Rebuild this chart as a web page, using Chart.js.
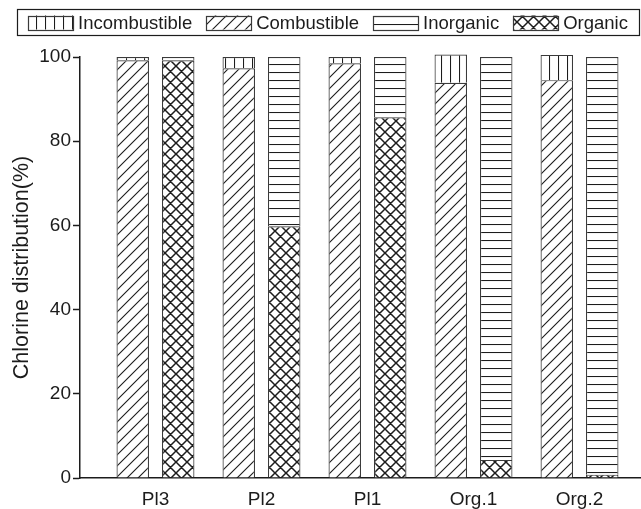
<!DOCTYPE html>
<html>
<head>
<meta charset="utf-8">
<script src="https://cdn.jsdelivr.net/npm/chart.js@4.4.1/dist/chart.umd.min.js"></script>
<style>
  html, body { margin: 0; padding: 0; background: #fff; }
  #wrap { width: 641px; height: 509px; }
</style>
</head>
<body>
<div id="wrap"><canvas id="chart"></canvas></div>
<script>
// data (percent of total chlorine)
const categories = ['Pl3', 'Pl2', 'Pl1', 'Org.1', 'Org.2'];
const combustible = [99.2, 97.3, 98.5, 93.9, 94.5];
const incombustible = [0.8, 2.7, 1.5, 6.7, 6.0];
const organic = [99.2, 59.8, 85.7, 4.3, 0.8];
const inorganic = [0.8, 40.2, 14.3, 95.7, 99.2];
const yTicks = [0, 20, 40, 60, 80, 100];

const INK = '#1c1c1c';
const FONT = "Arial, 'Liberation Sans', sans-serif";

Chart.defaults.font.family = FONT;
Chart.defaults.color = INK;

// hatch fills, drawn once into small tiles
function makePattern(kind) {
    const s = { vertical: 9, horizontal: 8, diagonal: 11, cross: 11 }[kind];
    const c = document.createElement('canvas');
    c.width = s; c.height = s;
    const g = c.getContext('2d');
    g.fillStyle = '#fff';
    g.fillRect(0, 0, s, s);
    g.strokeStyle = INK;
    g.lineWidth = kind === 'cross' ? 1.5 : 1.1;
    g.beginPath();
    if (kind === 'vertical') { g.moveTo(0.5, 0); g.lineTo(0.5, s); }
    if (kind === 'horizontal') { g.moveTo(0, 0.5); g.lineTo(s, 0.5); }
    if (kind === 'diagonal' || kind === 'cross') {
        g.moveTo(-1, s + 1); g.lineTo(s + 1, -1);
        g.moveTo(-1, 1); g.lineTo(1, -1);
        g.moveTo(s - 1, s + 1); g.lineTo(s + 1, s - 1);
    }
    if (kind === 'cross') {
        g.moveTo(-1, -1); g.lineTo(s + 1, s + 1);
        g.moveTo(s - 1, -1); g.lineTo(s + 1, 1);
        g.moveTo(-1, s - 1); g.lineTo(1, s + 1);
    }
    g.stroke();
    return g.createPattern(c, 'repeat');
}

const toPoints = (arr) => arr.map((v, i) => ({ x: i, y: v }));

function barSet(label, data, stack, kind) {
    return {
        label,
        data: toPoints(data),
        stack,
        clip: false,
        backgroundColor: makePattern(kind),
        borderColor: '#3a3a3a',
        borderWidth: 1.2,
        categoryPercentage: 0.858,
        barPercentage: 0.714,
    };
}

// legend drawn by hand: one boxed row, swatches use the dataset fills
const legendOrder = [1, 0, 3, 2];
const boxedLegend = {
    id: 'boxedLegend',
    afterDraw(chart) {
        const ctx = chart.ctx;
        const sw = 45, sh = 14, gap = 5, itemGap = 14, cy = 22.5;
        ctx.save();
        ctx.font = '18.5px ' + FONT;
        ctx.textBaseline = 'middle';
        const items = legendOrder.map((i) => chart.data.datasets[i]);
        const widths = items.map((d) => ctx.measureText(d.label).width);
        const total = widths.reduce((a, w) => a + w + sw + gap, 0) + itemGap * (items.length - 1);
        let x = 328 - total / 2;
        ctx.lineWidth = 1.2;
        ctx.strokeStyle = INK;
        ctx.strokeRect(Math.round(x - 11) + 0.5, 9.5, Math.round(total + 22), 26);
        items.forEach((d, k) => {
            ctx.fillStyle = d.backgroundColor;
            ctx.fillRect(x, cy - sh / 2, sw, sh);
            ctx.strokeStyle = '#3a3a3a';
            ctx.strokeRect(Math.round(x) + 0.5, Math.round(cy - sh / 2) + 0.5, sw, sh);
            ctx.fillStyle = INK;
            ctx.fillText(d.label, x + sw + gap, cy + 1);
            x += sw + gap + widths[k] + itemGap;
        });
        ctx.restore();
    },
};

new Chart(document.getElementById('chart'), {
    type: 'bar',
    data: {
        datasets: [
            barSet('Combustible', combustible, 'fuel', 'diagonal'),
            barSet('Incombustible', incombustible, 'fuel', 'vertical'),
            barSet('Organic', organic, 'form', 'cross'),
            barSet('Inorganic', inorganic, 'form', 'horizontal'),
        ],
    },
    options: {
        responsive: true,
        maintainAspectRatio: false,
        animation: false,
        layout: { padding: { top: 57, right: 0, left: 4, bottom: 0 } },
        plugins: {
            tooltip: { enabled: false },
            legend: { display: false },
        },
        scales: {
            x: {
                type: 'linear',
                offset: false,
                stacked: true,
                min: -0.712,
                max: 4.58,
                grid: { display: false },
                border: { color: INK, width: 1.5 },
                afterBuildTicks: (axis) => { axis.ticks = categories.map((_, i) => ({ value: i })); },
                afterFit: (axis) => { axis.height = 31; },
                ticks: {
                    autoSkip: false,
                    maxRotation: 0,
                    padding: 2,
                    font: { size: 19 },
                    color: INK,
                    callback: (v) => categories[v],
                },
            },
            y: {
                stacked: true,
                min: 0,
                max: 100,
                afterBuildTicks: (axis) => { axis.ticks = yTicks.map((v) => ({ value: v })); },
                afterFit: (axis) => { axis.width = 76; },
                grid: { drawOnChartArea: false, drawTicks: true, tickLength: 7, tickColor: INK, tickWidth: 1.5 },
                border: { color: INK, width: 1.5 },
                ticks: { padding: 2, font: { size: 19 }, color: INK },
                title: {
                    display: true,
                    text: 'Chlorine distribution(%)',
                    font: { size: 21.5 },
                    color: INK,
                    padding: { top: 5, bottom: 0 },
                },
            },
        },
    },
    plugins: [boxedLegend],
});
</script>
</body>
</html>
